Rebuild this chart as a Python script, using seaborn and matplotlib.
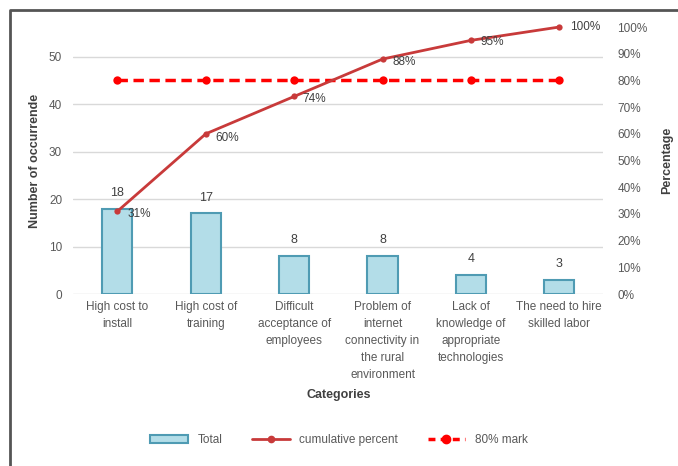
import seaborn as sns
import matplotlib.pyplot as plt
import matplotlib.lines as mlines
import matplotlib.patches as mpatches
import numpy as np
import pandas as pd

# Dados do gráfico de Pareto
categorias = [
    "High cost to\ninstall",
    "High cost of\ntraining",
    "Difficult\nacceptance of\nemployees",
    "Problem of\ninternet\nconnectivity in\nthe rural\nenvironment",
    "Lack of\nknowledge of\nappropriate\ntechnologies",
    "The need to hire\nskilled labor",
]
total = [18, 17, 8, 8, 4, 3]
cumulativo = [31, 60, 74, 88, 95, 100]
marca_80 = [80, 80, 80, 80, 80, 80]
rotulos_cum = ["31%", "60%", "74%", "88%", "95%", "100%"]

df = pd.DataFrame({"Categoria": categorias, "Total": total,
                   "Cumulativo": cumulativo, "Marca": marca_80,
                   "pos": np.arange(len(categorias))})

sns.set_style("white")
plt.rcParams["font.family"] = ["Liberation Sans", "DejaVu Sans"]
cinza = "#595959"

fig = plt.figure(figsize=(6.78, 4.66), dpi=100)
ax = fig.add_axes([0.108, 0.369, 0.782, 0.573])

# Barras - total por categoria
sns.barplot(x="Categoria", y="Total", data=df, color="#b3dde8", width=0.34,
            edgecolor="#4f9bb3", linewidth=1.5, saturation=1, ax=ax)
ax.bar_label(ax.containers[0], padding=7, fontsize=9, color="#404040")

ax.set_ylim(0, 56.3)
ax.set_xlim(-0.5, 5.5)
ax.set_yticks([0, 10, 20, 30, 40, 50])
ax.yaxis.grid(True, color="#d9d9d9", linewidth=1)
ax.set_axisbelow(True)
for s in ax.spines.values():
    s.set_visible(False)
ax.tick_params(axis="both", length=0, labelsize=8.5, labelcolor=cinza)
ax.tick_params(axis="y", pad=8)
ax.tick_params(axis="x", pad=5)
for t in ax.get_xticklabels():
    t.set_linespacing(1.55)
ax.set_xlabel("Categories", fontsize=9, fontweight="bold", color="#404040", labelpad=6)
ax.set_ylabel("Number of occurrende", fontsize=9, fontweight="bold", color="#404040", labelpad=6)

# Eixo secundário - percentual acumulado
ax2 = ax.twinx()
sns.lineplot(x="pos", y="Marca", data=df, color="#ff0000", linewidth=2.5,
             linestyle=(0, (3, 1.6)), marker="o", markersize=6, markeredgewidth=0, ax=ax2)
sns.lineplot(x="pos", y="Cumulativo", data=df, color="#c83a3a", linewidth=2,
             marker="o", markersize=4.5, markeredgewidth=0, ax=ax2, clip_on=False)
offsets = [(7, -2), (7, -3), (6, -2), (7, -2), (7, -1), (8, 0)]
for xi, yi, lab, off in zip(df["pos"], cumulativo, rotulos_cum, offsets):
    ax2.annotate(lab, (xi, yi), xytext=off, textcoords="offset points",
                 fontsize=8.5, color="#404040", va="center", ha="left")

ax2.set_ylim(0, 100)
ax2.set_yticks(range(0, 101, 10))
ax2.set_yticklabels([f"{v}%" for v in range(0, 101, 10)])
ax2.set_xlim(-0.5, 5.5)
for s in ax2.spines.values():
    s.set_visible(False)
ax2.tick_params(axis="y", length=0, labelsize=8.5, labelcolor=cinza, pad=10)
ax2.set_xlabel("")
ax2.set_ylabel("Percentage", fontsize=9, fontweight="bold", color="#404040", labelpad=10)

# Legenda
h_total = mpatches.Patch(facecolor="#b3dde8", edgecolor="#4f9bb3", linewidth=1.5, label="Total")
h_cum = mlines.Line2D([], [], color="#c83a3a", linewidth=2, marker="o", markersize=4.5, label="cumulative percent")
h_80 = mlines.Line2D([], [], color="#ff0000", linewidth=2.5, linestyle=(0, (2, 1.5)), marker="o",
                     markersize=6, label="80% mark")
fig.legend(handles=[h_total, h_cum, h_80], loc="center", bbox_to_anchor=(0.5, 0.055), ncol=3,
           frameon=False, fontsize=8.5, labelcolor=cinza, handlelength=3.2, columnspacing=2.5,
           handleheight=0.6)

# Moldura
fig.add_artist(mlines.Line2D([0.015, 0.015, 1.0], [0.0, 0.978, 0.978], color="#555555", linewidth=2))

plt.savefig("out.png", dpi=100)
